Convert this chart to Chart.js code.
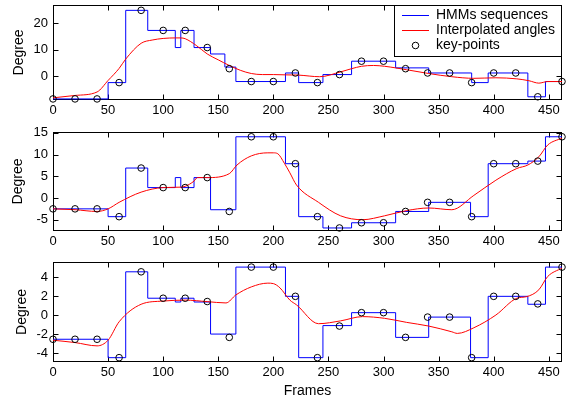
<!DOCTYPE html>
<html>
<head>
<meta charset="utf-8">
<title>HMM angles</title>
<script src="https://cdn.jsdelivr.net/npm/chart.js@4.4.1/dist/chart.umd.min.js"></script>
<style>
  html, body { margin: 0; padding: 0; background: #fff; }
  #wrap { position: relative; width: 571px; height: 403px; }
  .panel { position: absolute; left: 0; width: 571px; }
  .panel canvas { display: block; }
</style>
</head>
<body>
<div id="wrap">
  <div class="panel" style="top:0;height:120px"><canvas id="c1"></canvas></div>
  <div class="panel" style="top:120px;height:130px"><canvas id="c2"></canvas></div>
  <div class="panel" style="top:250px;height:153px"><canvas id="c3"></canvas></div>
</div>
<script>
// ======================= DATA =======================
const xTicks = [0, 50, 100, 150, 200, 250, 300, 350, 400, 450];
const xMax = 462;
const keyFrames = [0, 20, 40, 60, 80, 100, 120, 140, 160, 180, 200, 220, 240, 260, 280, 300, 320, 340, 360, 380, 400, 420, 440, 462];

// ---- panel 1 ----
const yTicks1 = [0, 10, 20];
const yRange1 = [-8.8, 26.7];
const hmmFrames1 = [0, 50, 66, 86, 111, 116, 128, 143, 156, 166, 211, 223, 245, 271, 311, 341, 380, 395, 431, 447, 462];
const hmmValues1 = [-8.4, -2.3, 24.7, 17.2, 10.8, 17.2, 10.8, 8.4, 3.5, -1.9, 1.3, -2.3, 0.7, 5.7, 3.2, 1.3, -2.3, 1.3, -7.6, -1.9, -1.9];
const interpFrames1 = [0, 20, 40, 50, 60, 66, 80, 90, 100, 111, 116, 120, 130, 140, 150, 160, 170, 180, 190, 200, 211, 223, 242, 261, 271, 280, 291, 301, 311, 321, 341, 362, 382, 402, 421, 432, 441, 449, 462];
const interpValues1 = [-8.0, -7.1, -5.8, -1.5, 3.0, 6.5, 12.4, 13.6, 14.2, 14.4, 14.4, 14.1, 11.6, 8.4, 6.2, 4.1, 2.3, 1.1, 0.7, 0.7, 0.6, 0.5, -0.1, 1.7, 2.9, 3.8, 4.1, 3.8, 3.2, 2.5, 1.1, -0.1, -0.7, -0.5, -0.9, -1.6, -2.5, -1.9, -1.9];
const keyValues1 = [-8.4, -8.4, -8.4, -2.3, 24.7, 17.2, 17.2, 10.8, 2.9, -1.9, -1.9, 1.3, -2.3, 0.7, 5.7, 5.7, 2.9, 1.3, 1.3, -2.3, 1.3, 1.3, -7.6, -1.9];

// ---- panel 2 ----
const yTicks2 = [-5, 0, 5, 10, 15];
const yRange2 = [-7.6, 15.2];
const hmmFrames2 = [0, 50, 66, 86, 111, 116, 128, 143, 166, 211, 223, 245, 271, 311, 341, 379, 395, 431, 447, 462];
const hmmValues2 = [-2.5, -4.3, 6.9, 2.4, 4.7, 2.4, 4.7, -2.7, 14.1, 7.9, -4.3, -6.9, -5.7, -3.1, -1.0, -4.3, 7.9, 8.5, 14.1, 14.1];
const interpFrames2 = [0, 20, 40, 50, 60, 80, 100, 116, 120, 128, 131, 140, 160, 167, 180, 195, 200, 204, 210, 215, 221, 241, 261, 281, 301, 321, 341, 362, 382, 402, 421, 431, 441, 449, 462];
const interpValues2 = [-2.5, -2.7, -3.1, -2.5, -1.0, 1.35, 2.4, 2.5, 2.7, 3.9, 4.7, 4.7, 5.6, 7.6, 9.7, 10.4, 10.4, 10.2, 8.0, 5.8, 3.0, -1.0, -4.1, -5.0, -4.1, -2.9, -2.3, -2.7, 0.6, 4.1, 6.8, 7.6, 9.5, 12.2, 13.8];
const keyValues2 = [-2.5, -2.5, -2.5, -4.3, 6.9, 2.4, 2.4, 4.7, -3.1, 14.1, 14.1, 7.9, -4.3, -6.9, -5.7, -5.7, -3.1, -1.0, -1.0, -4.3, 7.9, 7.9, 8.5, 14.1];

// ---- panel 3 ----
const yTicks3 = [-4, -2, 0, 2, 4];
const yRange3 = [-4.96, 5.64];
const hmmFrames3 = [0, 50, 66, 86, 111, 116, 128, 143, 166, 211, 223, 245, 271, 311, 341, 379, 395, 431, 447, 462];
const hmmValues3 = [-2.55, -4.5, 4.6, 1.8, 1.4, 1.8, 1.4, -2.0, 5.1, 2.0, -4.5, -1.1, 0.27, -2.35, -0.2, -4.5, 2.0, 1.16, 5.1, 5.1];
const interpFrames3 = [0, 20, 40, 50, 60, 80, 100, 120, 140, 157, 166, 180, 195, 200, 206, 215, 221, 241, 261, 281, 301, 321, 341, 362, 367, 382, 402, 421, 430, 441, 449, 462];
const interpValues3 = [-2.65, -2.9, -3.25, -2.65, -0.7, 1.16, 1.5, 1.6, 1.44, 1.3, 2.15, 3.0, 3.4, 3.35, 2.9, 1.6, 1.1, -0.9, -0.6, -0.15, -0.33, -0.76, -1.15, -1.76, -1.93, -1.33, 0.02, 1.8, 1.97, 2.7, 4.1, 5.0];
const keyValues3 = [-2.55, -2.55, -2.55, -4.5, 4.6, 1.8, 1.8, 1.45, -2.35, 5.1, 5.1, 2.0, -4.5, -1.15, 0.27, 0.27, -2.35, -0.2, -0.2, -4.5, 2.0, 2.0, 1.2, 5.1];

// ======================= HELPERS =======================
Chart.defaults.font.family = "'Liberation Sans', Arial, sans-serif";
Chart.defaults.font.size = 13;
Chart.defaults.color = '#000';

function pts(xs, ys) {
    return xs.map((x, i) => ({ x: x, y: ys[i] }));
}

// small canvases used as legend symbols
function lineIcon(color) {
    const c = document.createElement('canvas');
    c.width = 27; c.height = 3;
    const g = c.getContext('2d');
    g.strokeStyle = color; g.lineWidth = 1;
    g.beginPath(); g.moveTo(0, 1.5); g.lineTo(27, 1.5); g.stroke();
    return c;
}
function circleIcon() {
    const c = document.createElement('canvas');
    c.width = 9; c.height = 9;
    const g = c.getContext('2d');
    g.strokeStyle = '#000'; g.lineWidth = 1;
    g.beginPath(); g.arc(4.5, 4.5, 3.3, 0, Math.PI * 2); g.stroke();
    return c;
}
const legendIcons = [lineIcon('rgb(0,0,255)'), lineIcon('rgb(255,0,0)'), circleIcon()];

// ======================= MATLAB-LIKE AXES BOX =======================
const axesBox = {
    id: 'axesBox',
    afterLayout(chart) {
        if (!chart.options.plugins.legend.display) return;
        const a = chart.chartArea, lg = chart.legend;
        lg.left = a.right - 161; lg.right = a.right;
        lg.top = a.top + 2.5; lg.bottom = lg.top + 80;
        lg.width = lg.right - lg.left; lg.height = lg.bottom - lg.top;
    },
    beforeDraw(chart) {
        const { ctx, chartArea: a } = chart;
        const x = chart.scales.x, y = chart.scales.y;
        const L = Math.round(a.left) + 0.5, R = Math.round(a.right) - 0.5;
        const T = Math.round(a.top) + 0.5, B = Math.round(a.bottom) - 0.5;
        ctx.save();
        ctx.strokeStyle = '#000';
        ctx.lineWidth = 1;
        ctx.beginPath();
        x.ticks.forEach(t => {
            const px = Math.round(x.getPixelForValue(t.value)) + 0.5;
            ctx.moveTo(px, B); ctx.lineTo(px, B - 5);
            ctx.moveTo(px, T); ctx.lineTo(px, T + 5);
        });
        y.ticks.forEach(t => {
            const py = Math.round(y.getPixelForValue(t.value)) + 0.5;
            ctx.moveTo(L, py); ctx.lineTo(L + 5, py);
            ctx.moveTo(R, py); ctx.lineTo(R - 5, py);
        });
        ctx.stroke();
        ctx.strokeRect(L, T, R - L, B - T);

        // legend frame (items are drawn by the legend plugin)
        if (chart.options.plugins.legend.display) {
            const bx = Math.round(a.right) - 167.5, by = T;
            ctx.fillStyle = '#fff';
            ctx.fillRect(bx, by, R - bx, 51);
            ctx.strokeRect(bx, by, R - bx, 51);
        }
        ctx.restore();
    }
};

// ======================= PANEL FACTORY =======================
function makePanel(id, p) {
    return new Chart(document.getElementById(id), {
        type: 'line',
        data: {
            datasets: [
                {
                    label: 'HMMs sequences',
                    data: pts(p.hmmFrames, p.hmmValues),
                    borderColor: 'rgb(0,0,255)', borderWidth: 1,
                    stepped: 'before', pointRadius: 0, fill: false, order: 2
                },
                {
                    label: 'Interpolated angles',
                    data: pts(p.interpFrames, p.interpValues),
                    borderColor: 'rgb(255,0,0)', borderWidth: 1,
                    cubicInterpolationMode: 'monotone', pointRadius: 0, fill: false, order: 1
                },
                {
                    label: 'key-points',
                    data: pts(keyFrames, p.keyValues),
                    showLine: false, pointRadius: 3.3, pointStyle: 'circle',
                    pointBorderColor: '#000', pointBackgroundColor: 'rgba(0,0,0,0)',
                    pointBorderWidth: 1, clip: false, order: 0
                }
            ]
        },
        options: {
            responsive: true,
            maintainAspectRatio: false,
            devicePixelRatio: 1,
            animation: false,
            events: [],
            layout: { padding: { top: p.padTop, bottom: p.padBottom, left: 0, right: 9 } },
            plugins: {
                tooltip: { enabled: false },
                legend: p.legend ? {
                    display: true,
                    position: 'chartArea',
                    align: 'start',
                    labels: {
                        usePointStyle: true,
                        pointStyleWidth: 27,
                        padding: 1,
                        font: { size: 14 },
                        color: '#000',
                        generateLabels: chart => chart.data.datasets.map((ds, i) => ({
                            text: ds.label, pointStyle: legendIcons[i], fontColor: '#000',
                            datasetIndex: i, hidden: false, lineWidth: 0
                        }))
                    }
                } : { display: false }
            },
            scales: {
                x: {
                    type: 'linear', min: 0, max: xMax,
                    afterBuildTicks: s => { s.ticks = xTicks.map(v => ({ value: v })); },
                    afterFit: s => { s.height = p.xAxisHeight; s.paddingLeft = 0; s.paddingRight = 0; },
                    grid: { display: false, drawTicks: false }, border: { display: false },
                    ticks: { padding: 3, maxRotation: 0, autoSkip: false, color: '#000', callback: v => String(v) },
                    title: { display: p.showFrames, text: 'Frames', font: { size: 14 }, color: '#000', padding: 0 }
                },
                y: {
                    min: p.yRange[0], max: p.yRange[1],
                    afterBuildTicks: s => { s.ticks = p.yTicks.map(v => ({ value: v })); },
                    afterFit: s => { s.width = 53; s.paddingTop = 0; s.paddingBottom = 0; },
                    grid: { display: false, drawTicks: false }, border: { display: false },
                    ticks: { padding: 5, color: '#000', callback: v => String(v) },
                    title: { display: true, text: 'Degree', font: { size: 14 }, color: '#000', padding: { top: p.titlePad, bottom: 0 } }
                }
            }
        },
        plugins: [axesBox]
    });
}

// ======================= BUILD =======================
makePanel('c1', {
    hmmFrames: hmmFrames1, hmmValues: hmmValues1,
    interpFrames: interpFrames1, interpValues: interpValues1,
    keyValues: keyValues1, yTicks: yTicks1, yRange: yRange1,
    padTop: 1, padBottom: 1, xAxisHeight: 19, titlePad: 10.6,
    legend: true, showFrames: false
});
makePanel('c2', {
    hmmFrames: hmmFrames2, hmmValues: hmmValues2,
    interpFrames: interpFrames2, interpValues: interpValues2,
    keyValues: keyValues2, yTicks: yTicks2, yRange: yRange2,
    padTop: 12, padBottom: 0, xAxisHeight: 19, titlePad: 10,
    legend: false, showFrames: false
});
makePanel('c3', {
    hmmFrames: hmmFrames3, hmmValues: hmmValues3,
    interpFrames: interpFrames3, interpValues: interpValues3,
    keyValues: keyValues3, yTicks: yTicks3, yRange: yRange3,
    padTop: 12, padBottom: 3, xAxisHeight: 38, titlePad: 13.3,
    legend: false, showFrames: true
});
</script>
</body>
</html>
